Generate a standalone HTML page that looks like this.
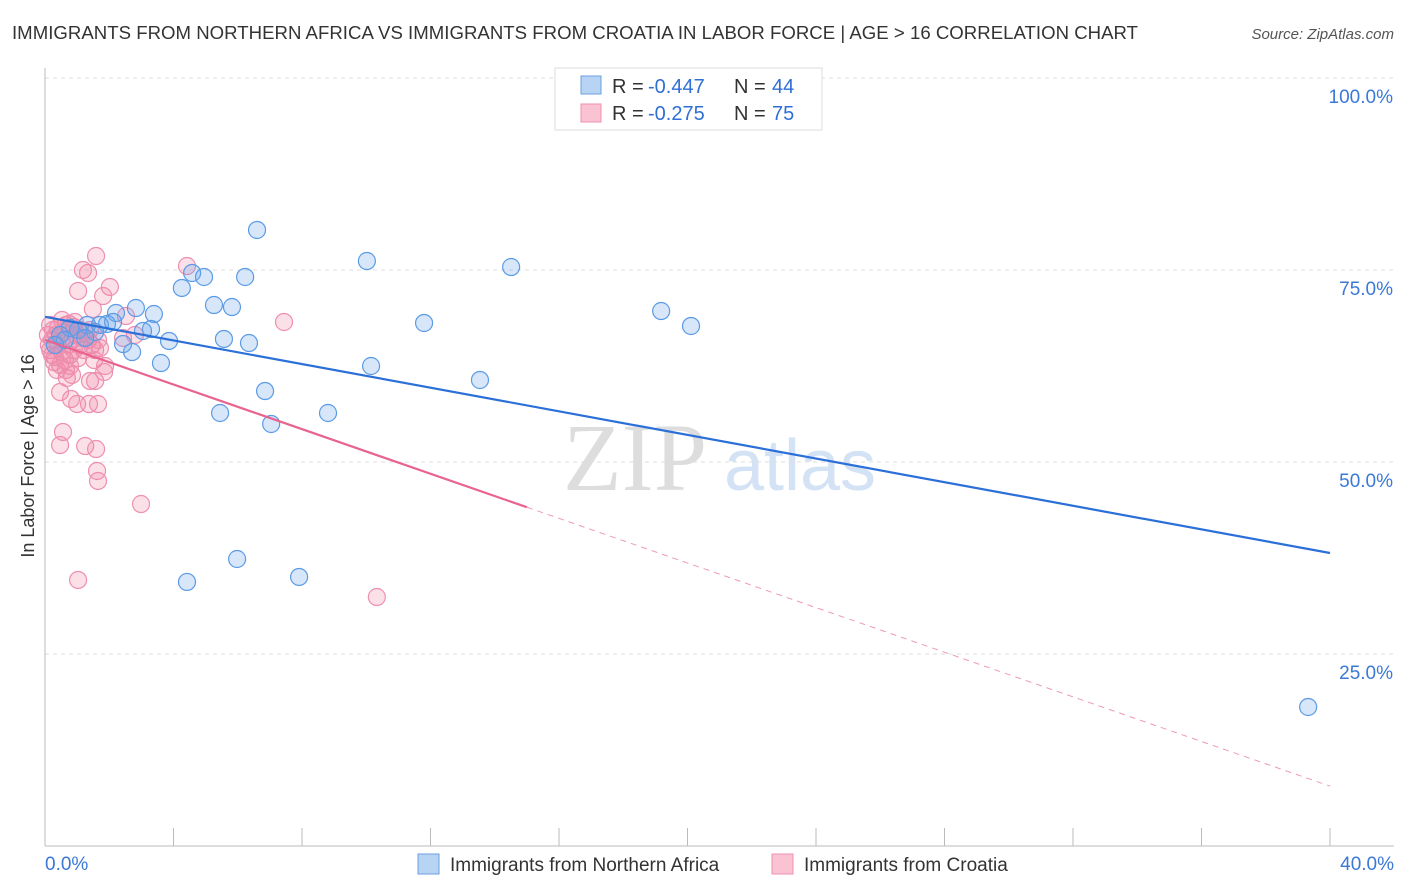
<!DOCTYPE html>
<html><head><meta charset="utf-8"><style>
body{margin:0;background:#fff;font-family:"Liberation Sans",sans-serif}
svg{display:block}
</style></head><body>
<svg id="chart" width="1406" height="892" xmlns="http://www.w3.org/2000/svg">
<text x="12" y="39" font-size="18.6" fill="#333" textLength="1126">IMMIGRANTS FROM NORTHERN AFRICA VS IMMIGRANTS FROM CROATIA IN LABOR FORCE | AGE &gt; 16 CORRELATION CHART</text>
<text x="1394" y="39" font-size="15" fill="#555" font-style="italic" text-anchor="end">Source: ZipAtlas.com</text>
<g>
<text x="635" y="490" font-size="96" fill="#ddd" font-family="Liberation Serif,serif" text-anchor="middle">ZIP</text>
<text x="800" y="490" font-size="72" fill="#d3e2f4" text-anchor="middle">atlas</text>
</g>
<g id="grid"></g>
<g id="axes"></g>
<g id="pts"></g>
<g id="lines"></g>
<text x="34" y="456" font-size="18" fill="#333" text-anchor="middle" transform="rotate(-90 34 456)">In Labor Force | Age &gt; 16</text>
<g>
<rect x="555" y="68" width="267" height="62" fill="#fff" stroke="#ddd"/>
<rect x="581" y="76" width="20" height="18" fill="#b8d4f5" stroke="#6a9fe0"/>
<rect x="581" y="104" width="20" height="18" fill="#f9c3d4" stroke="#ec8fae"/>
<g font-size="20" fill="#333">
<text x="612" y="93">R =</text><text x="648" y="93" fill="#2f6fd6">-0.447</text><text x="734" y="93">N =</text><text x="772" y="93" fill="#2f6fd6">44</text>
</g>
<g font-size="20" fill="#333">
<text x="612" y="120">R =</text><text x="648" y="120" fill="#2f6fd6">-0.275</text><text x="734" y="120">N =</text><text x="772" y="120" fill="#2f6fd6">75</text>
</g>
</g>
<g>
<rect x="418" y="854" width="21" height="20" fill="#b8d4f5" stroke="#6a9fe0"/>
<text x="450" y="871" font-size="19" fill="#333">Immigrants from Northern Africa</text>
<rect x="772" y="854" width="21" height="20" fill="#f9c3d4" stroke="#ec8fae"/>
<text x="804" y="871" font-size="19" fill="#333">Immigrants from Croatia</text>
</g>
</svg>
<script>
const yTicks=[25,50,75,100];
const yTickLabels=["25.0%","50.0%","75.0%","100.0%"];
const xTickLabels=["0.0%","40.0%"];
const bluePx=[[257,230],[367,261],[511,267],[192,273],[204,277],[245,277],[182,288],[214,305],[232,307],[136,308],[154,314],[116,313],[661,311],[424,323],[691,326],[107,324],[87,325],[70,328],[95,332],[151,329],[143,331],[224,339],[169,341],[249,343],[123,344],[132,352],[161,363],[371,366],[480,380],[265,391],[220,413],[328,413],[271,424],[237,559],[187,582],[299,577],[1308,707],[60,335],[78,330],[100,325],[113,322],[65,340],[55,345],[85,338]];
const pinkPx=[[96,256],[83,270],[88,273],[187,266],[78,291],[110,287],[103,296],[93,309],[126,316],[284,322],[69,324],[135,335],[123,338],[74,327],[105,366],[67,378],[90,381],[95,381],[60,392],[71,399],[77,404],[89,404],[98,404],[63,432],[60,445],[85,446],[96,449],[97,471],[98,481],[141,504],[78,580],[377,597],[50,325],[53,330],[56,335],[52,340],[58,345],[50,350],[62,352],[55,357],[65,360],[70,355],[68,345],[72,340],[76,335],[80,345],[84,350],[88,340],[92,345],[95,350],[60,365],[66,370],[54,362],[48,335],[58,328],[64,332],[74,350],[78,358],[82,338],[86,332],[62,340],[70,366],[100,348],[57,370],[52,355],[66,325],[75,322],[90,330],[98,340],[62,320],[72,375],[49,345],[80,330],[94,360],[104,372]];
const blueX=bluePx.map(p=>+((p[0]-45)/1285*40).toFixed(2));
const blueY=bluePx.map(p=>+((846-p[1])/7.68).toFixed(2));
const pinkX=pinkPx.map(p=>+((p[0]-45)/1285*40).toFixed(2));
const pinkY=pinkPx.map(p=>+((846-p[1])/7.68).toFixed(2));
const blueTrend=[68.9,38.15];
const pinkTrend=[65.9,7.8];
const pinkSolidEnd=15.0;
const X=v=>45+v/40*1285, Y=v=>846-v*7.68;
const NS="http://www.w3.org/2000/svg";
function mk(t,a,p){const e=document.createElementNS(NS,t);for(const k in a)e.setAttribute(k,a[k]);p.appendChild(e);return e;}
const grid=document.getElementById('grid'),axes=document.getElementById('axes'),pts=document.getElementById('pts'),lines=document.getElementById('lines');
yTicks.forEach((t,i)=>{
 const g=mk('line',{x1:45,x2:1394,y1:Y(t),y2:Y(t),stroke:'#ddd','stroke-dasharray':'4,4'},grid);
 
 
 const l=mk('text',{x:1393,y:Y(t)+25,'font-size':19,fill:'#3b78d8','text-anchor':'end'},axes);
 l.textContent=yTickLabels[i];
 
 
});
const al=mk('line',{x1:45,x2:45,y1:68,y2:846,stroke:'#bbb'},axes);


const bl=mk('line',{x1:45,x2:1394,y1:846,y2:846,stroke:'#bbb'},axes);


for(let i=0;i<=10;i++){const t=mk('line',{x1:X(i*4),x2:X(i*4),y1:828,y2:846,stroke:'#bbb'},axes);
 
 }
[[0,'start',45],[1,'end',1394]].forEach(([i,a,x])=>{const t=mk('text',{x:x,y:870,'font-size':19,fill:'#3b78d8','text-anchor':a},axes);t.textContent=xTickLabels[i];
 
 });
pinkX.forEach((x,i)=>{const c=mk('circle',{cx:X(x),cy:Y(pinkY[i]),r:8.5,fill:'rgba(240,130,165,0.25)',stroke:'#ee8fb0','stroke-width':1.2},pts);
 
 });
blueX.forEach((x,i)=>{const c=mk('circle',{cx:X(x),cy:Y(blueY[i]),r:8.5,fill:'rgba(110,165,235,0.28)',stroke:'#5b9be6','stroke-width':1.2},pts);
 
 });
const pAt=x=>pinkTrend[0]+(pinkTrend[1]-pinkTrend[0])*x/40;
const b=mk('line',{x1:X(0),y1:Y(blueTrend[0]),x2:X(40),y2:Y(blueTrend[1]),stroke:'#2b6fd8','stroke-width':2.2},lines);


const p1=mk('line',{x1:X(0),y1:Y(pAt(0)),x2:X(pinkSolidEnd),y2:Y(pAt(pinkSolidEnd)),stroke:'#e8648e','stroke-width':2.2},lines);


const p2=mk('line',{x1:X(pinkSolidEnd),y1:Y(pAt(pinkSolidEnd)),x2:X(40),y2:Y(pAt(40)),stroke:'#ee9ab5','stroke-width':1,'stroke-dasharray':'6,5'},lines);


</script>
</body></html>
